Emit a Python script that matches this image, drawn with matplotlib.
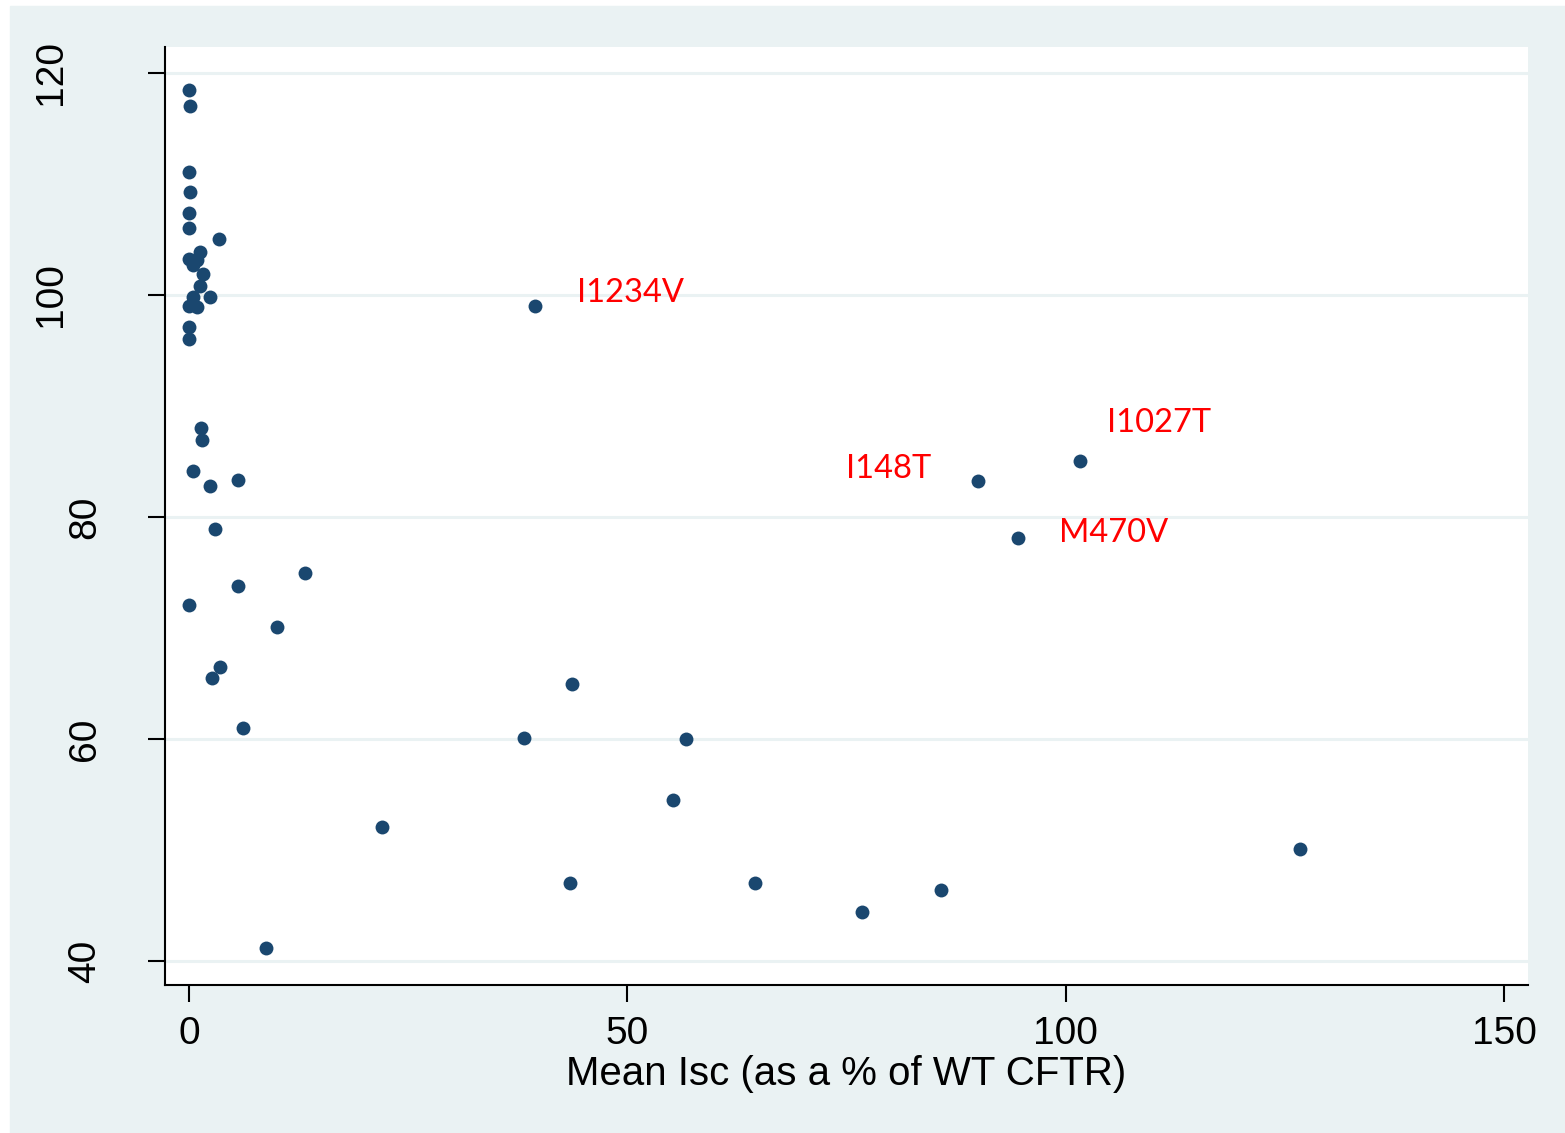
import matplotlib.pyplot as plt
from matplotlib.patches import Rectangle

# mean Isc (% of WT CFTR) vs y-value
isc = [0.0, 0.1, 0.05, 0.1, 0.0, 0.0, 3.4, 1.2, 0.05, 0.95, 0.46, 1.55, 1.2,
       0.4, 2.4, 0.0, 0.88, 0.0, 0.0,
       1.37, 1.45, 0.46, 2.4, 5.55, 2.97, 13.2, 5.55, 0.0, 10.0, 3.5, 2.6, 6.1,
       8.8, 22.0, 39.5, 38.2, 43.7, 43.5, 56.7, 55.25, 64.5, 76.7, 85.8,
       90.0, 94.5, 101.6, 126.7]
yval = [118.5, 117.0, 111.05, 109.3, 107.4, 106.0, 105.0, 103.9, 103.2, 103.15,
        102.7, 101.9, 100.8, 99.85, 99.8, 99.0, 98.9, 97.1, 96.06,
        88.0, 86.9, 84.1, 82.8, 83.3, 78.9, 75.0, 73.8, 72.1, 70.05, 66.5, 65.5,
        61.0,
        41.2, 52.1, 99.0, 60.1, 65.0, 47.0, 60.0, 54.5, 47.0, 44.4, 46.4,
        83.2, 78.1, 85.0, 50.1]

# labelled mutants: name, x, y
lab_names = ['I1234V', 'I1027T', 'I148T', 'M470V']
lab_x = [39.5, 101.6, 90.0, 94.5]
lab_y = [99.0, 85.0, 83.2, 78.1]
lab_offset = [(42, 4, 'left'), (27, 29, 'left'), (-47, 3, 'right'), (41, -4, 'left')]

xticks = [0, 50, 100, 150]
yticks = [40, 60, 80, 100, 120]

BG = '#EAF2F3'
DOT = '#1A476F'

plt.rcParams['font.family'] = ['Liberation Sans', 'DejaVu Sans']

fig = plt.figure(figsize=(15.65, 11.33), dpi=100)
fig.patches.append(Rectangle((10 / 1565, 0), 1, 1 - 6 / 1133,
                             transform=fig.transFigure, color=BG, zorder=-10))

ax = fig.add_axes([165 / 1565, 1 - 985 / 1133, (1528 - 165) / 1565, (985 - 47) / 1133])
ax.set_facecolor('white')

ax.scatter(isc, yval, s=100, color=DOT, linewidths=0, zorder=3)

for name, x, y, (dx, dy, ha) in zip(lab_names, lab_x, lab_y, lab_offset):
    ax.annotate(name, (x, y), xytext=(dx, dy), textcoords='offset pixels',
                ha=ha, va='baseline', color='#FF0000', fontsize=23.5,
                family=['Lato', 'DejaVu Sans'], zorder=4)

ax.set_xlim(-2.74, 152.7)
ax.set_ylim(37.84, 122.34)
ax.set_xticks(xticks)
ax.set_yticks(yticks)
ax.set_yticklabels([])
ax.grid(axis='y', color=BG, linewidth=2.2)
ax.set_axisbelow(True)

for s in ['top', 'right']:
    ax.spines[s].set_visible(False)
for s in ['left', 'bottom']:
    ax.spines[s].set_linewidth(1.5)

ax.tick_params(axis='both', direction='out', length=12, width=1.5)
ax.tick_params(axis='x', labelsize=28, pad=10)

# y tick labels, rotated, placed like the Stata output
for v in yticks:
    off = -114 if len(str(v)) == 3 else -80
    ax.annotate(str(v), (0, v), xycoords=('axes fraction', 'data'),
                xytext=(off, 0), textcoords='offset pixels',
                rotation=90, ha='center', va='center', fontsize=28)

ax.set_xlabel('Mean Isc (as a % of WT CFTR)', fontsize=29, va='baseline')
ax.xaxis.set_label_coords(0.5, -0.1066)

fig.savefig('out.png', dpi=100)
